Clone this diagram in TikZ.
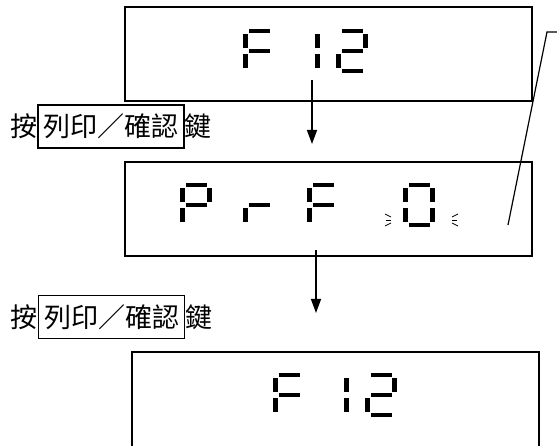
\documentclass[tikz,border=0pt]{standalone}
\usepackage{fontspec}
\newfontfamily\cjk{Noto Sans CJK TC}
\usetikzlibrary{arrows.meta}
\tikzset{
  dispbox/.style={draw, line width=1.6pt, minimum width=407pt, minimum height=94pt, inner sep=0pt},
  keybox/.style={draw, line width=1.4pt, minimum width=146pt, minimum height=43pt, inner sep=0pt, font=\cjk\fontsize{27}{30}\selectfont},
  lbl/.style={inner sep=0pt, font=\cjk\fontsize{27}{30}\selectfont},
  flow/.style={line width=1.4pt, -{Triangle[length=14pt,width=10pt]}},
  leader/.style={line width=1.2pt},
  blink/.style={line width=0.8pt},
  seg a/.pic={\fill (6,0) rectangle (27,4);},
  seg b/.pic={\fill (27,5) rectangle (32,19);},
  seg c/.pic={\fill (27,25) rectangle (32,39);},
  seg d/.pic={\fill (6,40) rectangle (27,44);},
  seg e/.pic={\fill (0,25) rectangle (5,39);},
  seg f/.pic={\fill (0,5) rectangle (5,19);},
  seg g/.pic={\fill (6,20) rectangle (27,24);},
}
\begin{document}
\begin{tikzpicture}[x=1pt,y=-1pt]
\useasboundingbox (0,0) rectangle (557,446);
% display boxes
\node[dispbox] (box1) at (328.5,54) {};
\node[dispbox] (box2) at (328.5,209) {};
\node[dispbox, minimum height=104pt] (box3) at (335.5,404) {};
% box 1: F 12
\foreach \s in {a,f,g,e} \pic at (243,29) {seg \s};
\foreach \s in {b,c} \pic at (288,29) {seg \s};
\foreach \s in {a,b,g,e,d} \pic at (336,29) {seg \s};
% box 2: P r F 0
\foreach \s in {a,b,f,g,e} \pic at (180,183) {seg \s};
\foreach \s in {g,e} \pic at (243,183) {seg \s};
\foreach \s in {a,f,g,e} \pic at (307,183) {seg \s};
\foreach \s in {a,b,c,d,e,f} \pic at (403,183) {seg \s};
% blink marks
\coordinate (bl1) at (385,214); \coordinate (bl2) at (391,217);
\coordinate (bl3) at (386,220); \coordinate (bl4) at (391,220);
\coordinate (bl5) at (385,226); \coordinate (bl6) at (391,223);
\draw[blink] (bl1) -- (bl2); \draw[blink] (bl3) -- (bl4); \draw[blink] (bl5) -- (bl6);
\coordinate (br1) at (458,214); \coordinate (br2) at (452,217);
\coordinate (br3) at (457,220); \coordinate (br4) at (452,220);
\coordinate (br5) at (458,226); \coordinate (br6) at (452,223);
\draw[blink] (br1) -- (br2); \draw[blink] (br3) -- (br4); \draw[blink] (br5) -- (br6);
% box 3: F 12
\foreach \s in {a,f,g,e} \pic at (273,373) {seg \s};
\foreach \s in {b,c} \pic at (317,373) {seg \s};
\foreach \s in {a,b,g,e,d} \pic at (365,373) {seg \s};
% arrows
\coordinate (a1s) at (312,80); \coordinate (a1e) at (312,144);
\coordinate (a2s) at (316,250); \coordinate (a2e) at (316,313);
\draw[flow] (a1s) -- (a1e);
\draw[flow] (a2s) -- (a2e);
% leader line
\coordinate (l1) at (508,225); \coordinate (l2) at (547,32); \coordinate (l3) at (558,32);
\draw[leader] (l1) -- (l2) -- (l3);
% labels
\node[keybox] (k1) at (111,126.5) {列印／確認};
\node[lbl, anchor=east] (p1) at (k1.west) {按};
\node[lbl, anchor=west] (j1) at (k1.east) {鍵};
\node[keybox] (k2) at (111.5,317) {列印／確認};
\node[lbl, anchor=east] (p2) at (k2.west) {按};
\node[lbl, anchor=west] (j2) at (k2.east) {鍵};
\end{tikzpicture}
\end{document}
